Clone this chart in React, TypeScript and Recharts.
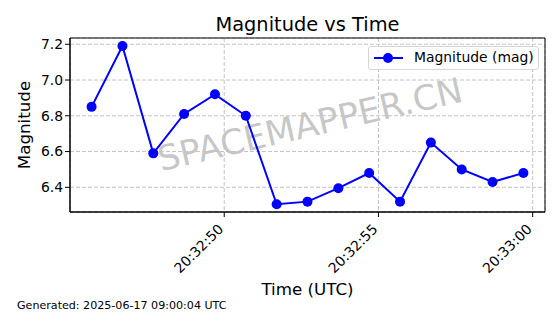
import React from 'react';
import { LineChart, Line, XAxis, YAxis, CartesianGrid, Legend, ReferenceArea } from 'recharts';

// seconds after 20:32:00 UTC
const seconds = [45.7, 46.7, 47.7, 48.7, 49.7, 50.7, 51.7, 52.7, 53.7, 54.7, 55.7, 56.7, 57.7, 58.7, 59.7];
const magnitudes = [6.85, 7.19, 6.59, 6.81, 6.92, 6.8, 6.305, 6.32, 6.395, 6.48, 6.32, 6.65, 6.5, 6.43, 6.48];

const xTicks = [50, 55, 60];
const xTickLabels = ['20:32:50', '20:32:55', '20:33:00'];
const yTicks = [6.4, 6.6, 6.8, 7.0, 7.2];

const xDomain = [45.0, 60.4];
const yDomain = [6.262, 7.235];

const FONT = '"DejaVu Sans", sans-serif';
const LINE_COLOR = '#0000ff';

const chartData = seconds.map((t, i) => ({ t, mag: magnitudes[i] }));

const RotatedTick: React.FC<any> = ({ x, y, payload }) => {
  const idx = xTicks.indexOf(payload.value);
  const px = x;
  const py = y + 11;
  return (
    <text
      x={px}
      y={py}
      transform={`rotate(-45, ${px}, ${py})`}
      textAnchor="end"
      fontFamily={FONT}
      fontSize={13.9}
      fill="#000"
    >
      {idx >= 0 ? xTickLabels[idx] : ''}
    </text>
  );
};

const LegendBox: React.FC = () => (
  <div
    style={{
      boxSizing: 'border-box',
      width: 171,
      height: 24,
      border: '1px solid #d6d6d6',
      borderRadius: 3,
      background: 'rgba(255,255,255,0.8)',
      position: 'relative',
      fontFamily: FONT,
      fontSize: 13.9,
      color: '#000',
    }}
  >
    <svg width={40} height={22} style={{ position: 'absolute', left: 0, top: 0 }}>
      <line x1={5} y1={11} x2={34} y2={11} stroke={LINE_COLOR} strokeWidth={2} />
      <circle cx={19} cy={11} r={5} fill={LINE_COLOR} />
    </svg>
    <span style={{ position: 'absolute', left: 45, top: 2, whiteSpace: 'nowrap' }}>Magnitude (mag)</span>
  </div>
);

export default function App() {
  return (
    <div style={{ position: 'relative', width: 560, height: 314, background: '#fff' }}>
      <style>{'body{margin:0}'}</style>
      <svg width={560} height={314} style={{ position: 'absolute', left: 0, top: 0 }}>
        <text
          x={310}
          y={124}
          dy="0.36em"
          transform="rotate(-13, 310, 124)"
          textAnchor="middle"
          fontFamily={FONT}
          fontSize={34.7}
          fill="#808080"
          fillOpacity={0.45}
        >
          SPACEMAPPER.CN
        </text>
        <text x={307.5} y={31} textAnchor="middle" fontFamily={FONT} fontSize={19.4} fill="#000">
          Magnitude vs Time
        </text>
        <text x={307.5} y={295} textAnchor="middle" fontFamily={FONT} fontSize={16.7} fill="#000">
          Time (UTC)
        </text>
        <text
          x={29.5}
          y={125}
          transform="rotate(-90, 29.5, 125)"
          textAnchor="middle"
          fontFamily={FONT}
          fontSize={16.7}
          fill="#000"
        >
          Magnitude
        </text>
        <text x={17} y={309} fontFamily={FONT} fontSize={11.1} fill="#000">
          Generated: 2025-06-17 09:00:04 UTC
        </text>
      </svg>
      <div style={{ position: 'absolute', left: 0, top: 0 }}>
        <LineChart width={560} height={314} data={chartData} margin={{ top: 38, right: 15, bottom: 0, left: 0 }}>
          <CartesianGrid stroke="#c4c4c4" strokeDasharray="4 2" strokeWidth={1} />
          <XAxis
            dataKey="t"
            type="number"
            domain={xDomain}
            ticks={xTicks}
            height={102}
            tickSize={5}
            tickMargin={2}
            tick={<RotatedTick />}
            axisLine={{ stroke: '#000' }}
            tickLine={{ stroke: '#000' }}
            interval={0}
          />
          <YAxis
            type="number"
            domain={yDomain}
            ticks={yTicks}
            width={70}
            tickSize={5}
            tickMargin={2}
            tickFormatter={(v: number) => v.toFixed(1)}
            tick={{ fill: '#000', fontSize: 13.9, fontFamily: FONT }}
            axisLine={{ stroke: '#000' }}
            tickLine={{ stroke: '#000' }}
            interval={0}
          />
          <ReferenceArea
            x1={xDomain[0]}
            x2={xDomain[1]}
            y1={yDomain[0]}
            y2={yDomain[1]}
            fill="none"
            stroke="#000"
            strokeWidth={1}
            ifOverflow="visible"
          />
          <Legend
            layout="horizontal"
            verticalAlign="middle"
            align="center"
            content={<LegendBox />}
            wrapperStyle={{ position: 'absolute', left: 368, top: 46, width: 171, height: 24 }}
          />
          <Line
            dataKey="mag"
            name="Magnitude (mag)"
            stroke={LINE_COLOR}
            strokeWidth={2}
            dot={{ r: 5, fill: LINE_COLOR, stroke: LINE_COLOR, strokeWidth: 0 }}
            activeDot={false}
            isAnimationActive={false}
          />
        </LineChart>
      </div>
    </div>
  );
}
